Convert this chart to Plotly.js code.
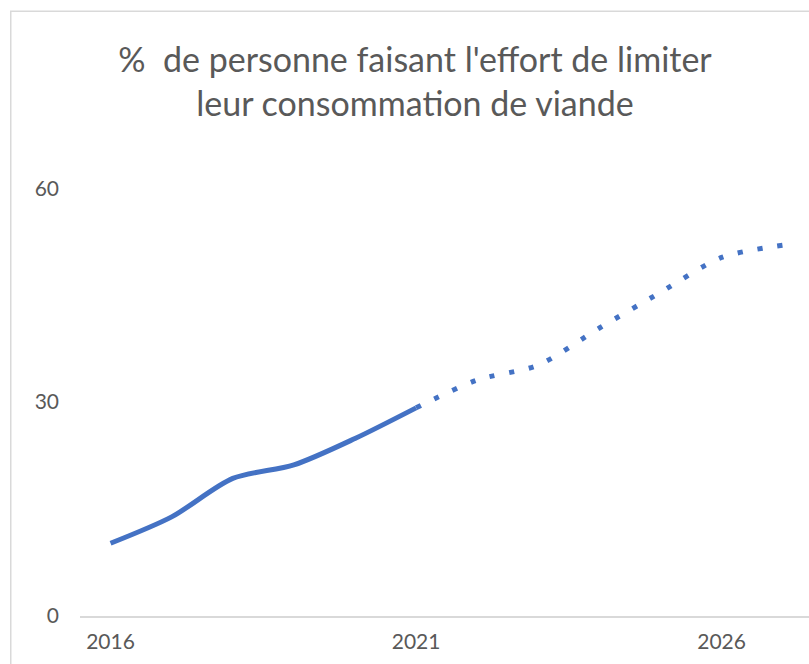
<!DOCTYPE html>
<html>
<head>
<meta charset="utf-8">
<script src="https://cdn.plot.ly/plotly-3.0.1.min.js"></script>
<style>html,body{margin:0;padding:0;background:#fff;}#chart{width:809px;height:664px;}</style>
</head>
<body>
<div id="chart"></div>
<script>
const titleText = "%\u00a0 de personne faisant l'effort de limiter<br>leur consommation de viande";
const actualYears = [2016, 2017, 2018, 2019, 2020, 2021];
const actualValues = [10.2, 13.9, 19.3, 21.2, 24.9, 29.2];
const forecastYears = [2021, 2022, 2023, 2024, 2025, 2026, 2027];
const forecastValues = [29.2, 33.1, 35.2, 40.4, 45.4, 50.3, 52.0];
const xTicks = [2016, 2021, 2026];
const yTicks = [0, 30, 60];

const lineColor = '#4472C4';
const textColor = '#595959';

const traces = [
  {x: actualYears, y: actualValues, type: 'scatter', mode: 'lines',
   line: {color: lineColor, width: 5, shape: 'spline', smoothing: 0.8}, hoverinfo: 'skip'},
  {x: forecastYears, y: forecastValues, type: 'scatter', mode: 'lines',
   line: {color: lineColor, width: 5, shape: 'spline', smoothing: 0.8, dash: '5px,15px'}, hoverinfo: 'skip'}
];

const layout = {
  width: 809, height: 664,
  margin: {l: 80, r: 0, t: 117, b: 48, pad: 0},
  paper_bgcolor: '#ffffff', plot_bgcolor: '#ffffff',
  showlegend: false,
  font: {family: 'Lato, sans-serif', color: textColor, size: 21},
  title: {text: titleText, font: {family: 'Lato, sans-serif', size: 34, weight: 400, color: textColor},
          xref: 'container', x: 0.513, xanchor: 'center', yref: 'container', y: 0.892, yanchor: 'top'},
  xaxis: {range: [2015.5, 2027.43], tickvals: xTicks, ticktext: xTicks.map(String),
          showgrid: false, zeroline: false, showline: true, linecolor: '#D9D9D9', linewidth: 1.5,
          ticks: '', ticklabelstandoff: 6, tickfont: {size: 21, color: textColor}, fixedrange: true},
  yaxis: {range: [0, 70], tickvals: yTicks, ticktext: yTicks.map(String),
          showgrid: false, zeroline: false, showline: false,
          ticks: '', ticklabelstandoff: 20, tickfont: {size: 21, color: textColor}, fixedrange: true},
  shapes: [
    {type: 'rect', xref: 'paper', yref: 'paper', x0: -0.095, x1: 1.2, y0: -0.3, y1: 1.212,
     line: {color: '#D9D9D9', width: 1.5}, fillcolor: 'rgba(0,0,0,0)', layer: 'below'}
  ]
};

Plotly.newPlot('chart', traces, layout, {displayModeBar: false, staticPlot: true});
</script>
</body>
</html>
